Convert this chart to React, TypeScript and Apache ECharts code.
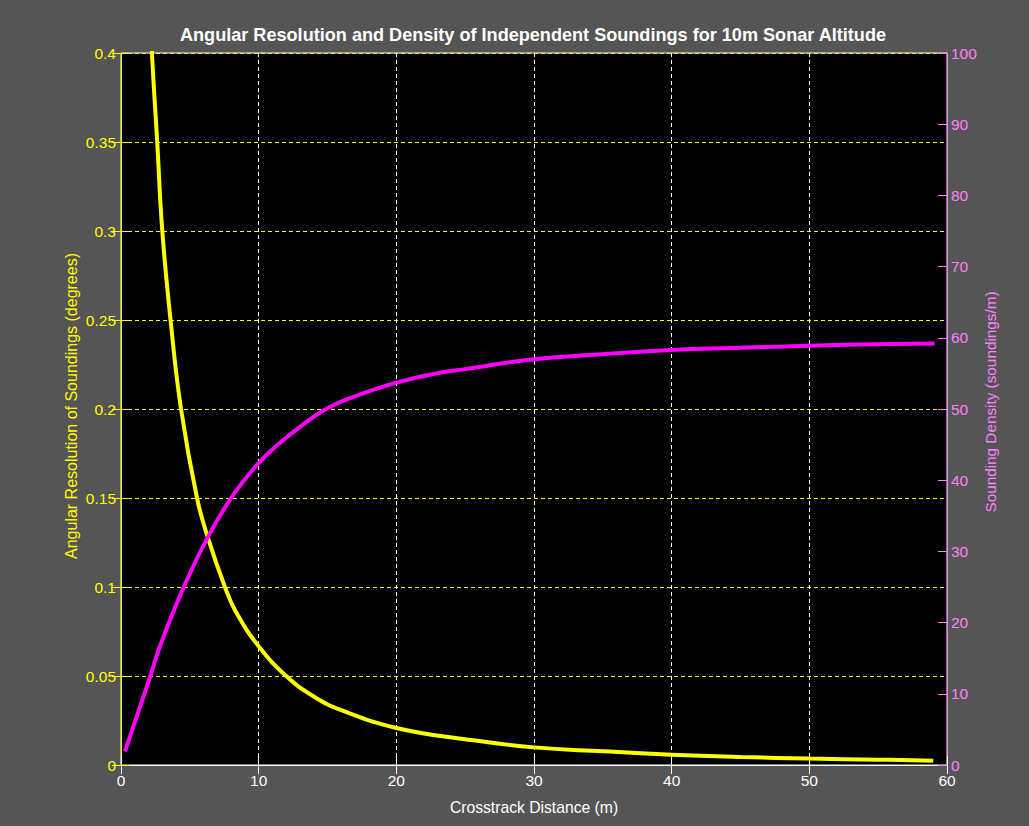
import React, { useEffect, useRef } from "react";
import * as echarts from "echarts";

const TITLE = "Angular Resolution and Density of Independent Soundings for 10m Sonar Altitude";
const X_NAME = "Crosstrack Distance (m)";
const LEFT_NAME = "Angular Resolution of Soundings (degrees)";
const RIGHT_NAME = "Sounding Density (soundings/m)";

// Angular resolution (left axis, degrees)
const resX = [2.0, 2.25, 2.63, 3.0, 3.6, 4.36, 5.52, 6.34, 7.55, 8.35, 9.93, 12, 14, 16, 20, 25, 30, 35, 40, 45, 50, 55, 59];
const resY = [0.45, 0.4, 0.35, 0.3, 0.25, 0.2, 0.15, 0.127, 0.1, 0.086, 0.0674, 0.05, 0.0385, 0.0308, 0.0208, 0.0145, 0.0099, 0.0077, 0.0058, 0.0045, 0.0036, 0.003, 0.0024];

// Sounding density (right axis, soundings/m)
const denX = [0.29, 2.13, 2.86, 4.55, 6.25, 8.0, 9.9, 11.4, 13.0, 14.8, 16.6, 20, 22.9, 25, 30, 35, 40, 45, 50, 55, 59.1];
const denY = [1.9, 12.5, 16.85, 24.95, 31.8, 37.5, 42.2, 45.0, 47.5, 49.9, 51.5, 53.7, 55.0, 55.6, 57.0, 57.7, 58.3, 58.6, 58.9, 59.1, 59.2];

const X_MIN = 0, X_MAX = 60, X_STEP = 10;
const L_MIN = 0, L_MAX = 0.4, L_STEP = 0.05;
const R_MIN = 0, R_MAX = 100, R_STEP = 10;

const YELLOW = "#ffff00";
const MAGENTA = "#ff00ff";
const PINK = "#ff80ff";
const WHITE = "#ffffff";
const FONT = "'Liberation Sans', Arial, sans-serif";

export default function App() {
  const ref = useRef<HTMLDivElement>(null);
  useEffect(() => {
    if (!ref.current) return;
    const chart = echarts.init(ref.current, null, { renderer: "svg" });
    const dash = [4, 3];
    const gridBox = { left: 121, right: 82, top: 53, bottom: 61 };
    chart.setOption({
      animation: false,
      backgroundColor: "#555555",
      textStyle: { fontFamily: FONT },
      graphic: [
        {
          type: "text",
          x: 533,
          y: 35,
          z: 10,
          style: {
            text: TITLE,
            fill: WHITE,
            font: `bold 18.1px ${FONT}`,
            textAlign: "center",
            textVerticalAlign: "middle",
          },
        },
        {
          type: "text",
          x: 71,
          y: 406,
          rotation: Math.PI / 2,
          z: 10,
          style: {
            text: LEFT_NAME,
            fill: YELLOW,
            font: `16px ${FONT}`,
            textAlign: "center",
            textVerticalAlign: "middle",
          },
        },
        {
          type: "text",
          x: 990,
          y: 402,
          rotation: Math.PI / 2,
          z: 10,
          style: {
            text: RIGHT_NAME,
            fill: PINK,
            font: `15.3px ${FONT}`,
            textAlign: "center",
            textVerticalAlign: "middle",
          },
        },
      ],
      grid: [
        {
          ...gridBox,
          show: true,
          backgroundColor: "#000000",
          borderColor: WHITE,
          borderWidth: 1,
        },
        { ...gridBox, show: false },
      ],
      xAxis: [
        {
          type: "value",
          gridIndex: 0,
          min: X_MIN,
          max: X_MAX,
          interval: X_STEP,
          position: "bottom",
          name: X_NAME,
          nameLocation: "middle",
          nameGap: 34,
          nameTextStyle: { color: WHITE, fontSize: 15.7, fontFamily: FONT },
          axisLine: { show: true, lineStyle: { color: WHITE, width: 1 } },
          axisTick: { show: true, inside: true, length: 9, lineStyle: { color: WHITE } },
          axisLabel: { color: WHITE, fontSize: 15.5, fontFamily: FONT, margin: 7 },
          splitLine: { show: true, lineStyle: { color: WHITE, type: dash, width: 1 } },
        },
        {
          type: "value",
          gridIndex: 1,
          min: X_MIN,
          max: X_MAX,
          interval: X_STEP,
          position: "top",
          axisLine: { show: true, lineStyle: { color: WHITE, width: 1 } },
          axisTick: { show: true, inside: true, length: 9, lineStyle: { color: WHITE } },
          axisLabel: { show: false },
          splitLine: { show: false },
        },
      ],
      yAxis: [
        {
          type: "value",
          gridIndex: 0,
          min: L_MIN,
          max: L_MAX,
          interval: L_STEP,
          position: "left",
          axisLine: { show: true, lineStyle: { color: YELLOW, width: 1 } },
          axisTick: { show: true, inside: true, length: 9, lineStyle: { color: YELLOW } },
          axisLabel: { color: YELLOW, fontSize: 15.5, fontFamily: FONT, margin: 5 },
          splitLine: { show: true, lineStyle: { color: YELLOW, type: dash, width: 1 } },
        },
        {
          type: "value",
          gridIndex: 0,
          min: R_MIN,
          max: R_MAX,
          interval: R_STEP,
          position: "right",
          axisLine: { show: true, lineStyle: { color: PINK, width: 1 } },
          axisTick: { show: true, inside: true, length: 9, lineStyle: { color: PINK } },
          axisLabel: { color: PINK, fontSize: 15.5, fontFamily: FONT, margin: 4 },
          splitLine: { show: false },
        },
        {
          type: "value",
          gridIndex: 1,
          min: L_MIN,
          max: L_MAX,
          interval: L_STEP,
          position: "right",
          axisLine: { show: false },
          axisTick: { show: true, inside: true, length: 9, lineStyle: { color: YELLOW } },
          axisLabel: { show: false },
          splitLine: { show: false },
        },
      ],
      series: [
        {
          type: "line",
          name: "resolution",
          xAxisIndex: 0,
          yAxisIndex: 0,
          data: resX.map((x, i) => [x, resY[i]]),
          showSymbol: false,
          smooth: 0.45,
          clip: true,
          lineStyle: { color: YELLOW, width: 4 },
          itemStyle: { color: YELLOW },
          z: 3,
        },
        {
          type: "line",
          name: "density",
          xAxisIndex: 0,
          yAxisIndex: 1,
          data: denX.map((x, i) => [x, denY[i]]),
          showSymbol: false,
          smooth: 0.45,
          clip: true,
          lineStyle: { color: MAGENTA, width: 4 },
          itemStyle: { color: MAGENTA },
          z: 4,
        },
      ],
    });
    return () => chart.dispose();
  }, []);
  return (
    <div
      ref={ref}
      style={{ position: "fixed", left: 0, top: 0, width: 1029, height: 826 }}
    />
  );
}
